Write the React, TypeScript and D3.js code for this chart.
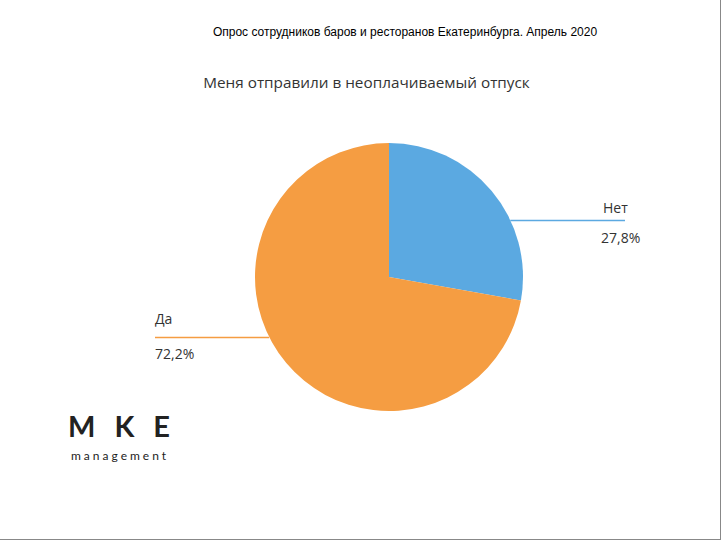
import React from "react";
import * as d3 from "d3";

const categories = ["Нет", "Да"];
const values = [27.8, 72.2];
const valueLabels = ["27,8%", "72,2%"];
const colors = ["#5BA9E1", "#F59D42"];

const W = 721;
const H = 540;
const CX = 389;
const CY = 277;
const R = 134;

export default function App() {
  const pie = d3.pie<number>().sort(null).value((d) => d)(values);
  const arc = d3.arc<d3.PieArcDatum<number>>().innerRadius(0).outerRadius(R);

  // leader line layout: y offset of the horizontal line, label side
  const leaders = [
    { dy: -57, side: 1, end: 625, textX: 603, nameDy: -7, valDy: 23 },
    { dy: 60, side: -1, end: 155, textX: 155, nameDy: -13, valDy: 22 },
  ];

  return (
    <svg
      width={W}
      height={H}
      style={{ position: "fixed", left: 0, top: 0, background: "#fff" }}
    >
      <rect x={0} y={0} width={W} height={H} fill="#fff" />
      <line x1={720.5} y1={0} x2={720.5} y2={540} stroke="#888" strokeWidth={1} />
      <line x1={0} y1={539.5} x2={721} y2={539.5} stroke="#888" strokeWidth={1} />

      <text
        x={405}
        y={36}
        textAnchor="middle"
        fontFamily="Liberation Sans, Arial, sans-serif"
        fontSize={12}
        fill="#000"
      >
        Опрос сотрудников баров и ресторанов Екатеринбурга. Апрель 2020
      </text>

      <text
        x={366.5}
        y={88}
        textAnchor="middle"
        fontFamily="Open Sans, Noto Sans, sans-serif"
        fontSize={15.3}
        fill="#333"
      >
        Меня отправили в неоплачиваемый отпуск
      </text>

      <g transform={`translate(${CX},${CY})`}>
        {pie.map((p, i) => (
          <path key={categories[i]} d={arc(p) || ""} fill={colors[i]} />
        ))}
      </g>

      {leaders.map((l, i) => {
        const y = CY + l.dy;
        const x0 = CX + l.side * Math.sqrt(R * R - l.dy * l.dy);
        return (
          <g key={"l" + i}>
            <line x1={x0} y1={y + 0.5} x2={l.end} y2={y + 0.5} stroke={colors[i]} strokeWidth={1.4} />
            <text
              x={l.textX}
              y={y + l.nameDy}
              fontFamily="Open Sans, Noto Sans, sans-serif"
              fontSize={14}
              fill="#333"
            >
              {categories[i]}
            </text>
            <text
              x={l.textX - (l.side > 0 ? 2 : 0)}
              y={y + l.valDy}
              fontFamily="Open Sans, Noto Sans, sans-serif"
              fontSize={14}
              fill="#333"
            >
              {valueLabels[i]}
            </text>
          </g>
        );
      })}

      <text
        x={68}
        y={437}
        fontFamily="Lato, Open Sans, sans-serif"
        fontWeight={700}
        fontSize={29}
        letterSpacing={19}
        fill="#222"
      >
        MKE
      </text>
      <text
        x={71}
        y={460}
        fontFamily="Lato, Open Sans, sans-serif"
        fontSize={12}
        letterSpacing={3}
        fill="#222"
      >
        management
      </text>
    </svg>
  );
}
